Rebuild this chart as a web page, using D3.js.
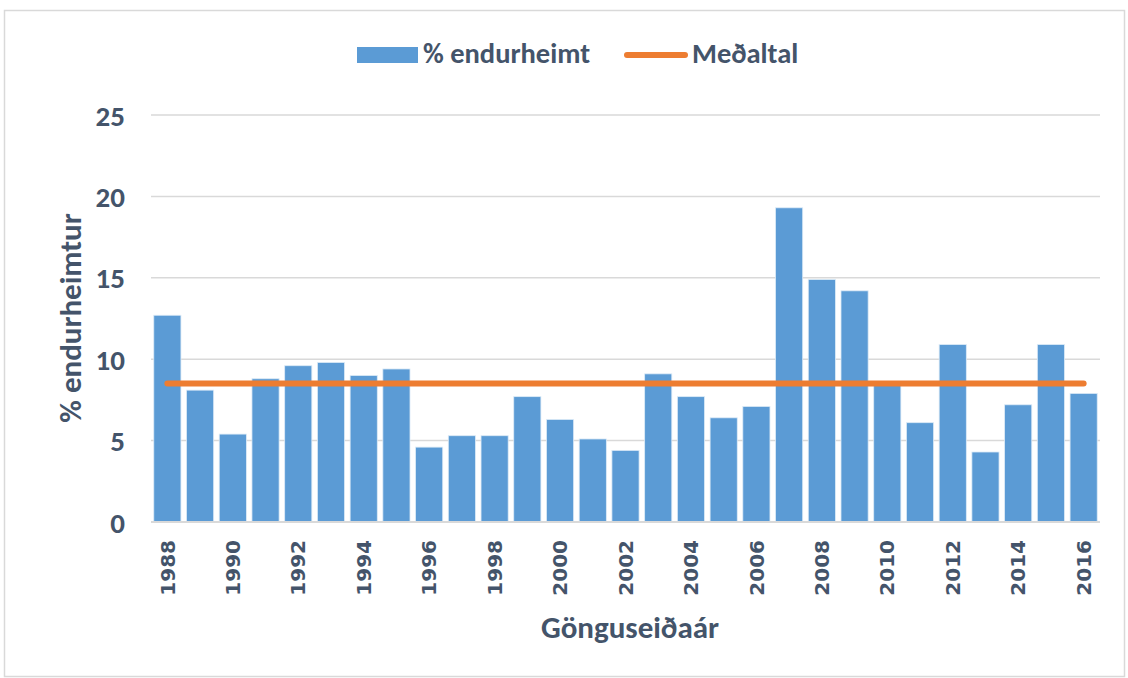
<!DOCTYPE html>
<html><head><meta charset="utf-8">
<script src="https://cdn.jsdelivr.net/npm/d3@7"></script>
<style>body{margin:0;background:#fff}svg{display:block}</style>
</head><body>
<script>
const years = d3.range(1988, 2017);
const values = [12.7,8.1,5.4,8.8,9.6,9.8,9.0,9.4,4.6,5.3,5.3,7.7,6.3,5.1,4.4,9.1,7.7,6.4,7.1,19.3,14.9,14.2,8.4,6.1,10.9,4.3,7.2,10.9,7.9];
const meanValue = 8.5;
const yTicks = [0,5,10,15,20,25];
const seriesNames = ["% endurheimt","Meðaltal"];
const xTitle = "Gönguseiðaár", yTitle = "% endurheimtur";

const W=1128,H=678;
const textColor="#44546A", barColor="#5B9BD5", lineColor="#ED7D31", gridColor="#D9D9D9";
const font="Carlito, 'Open Sans', sans-serif";
const svg=d3.select("body").append("svg").attr("width",W).attr("height",H);
svg.append("rect").attr("x",4.5).attr("y",10.5).attr("width",1120).attr("height",666).attr("fill","#fff").attr("stroke",gridColor).attr("stroke-width",1.5);

const x=d3.scaleBand().domain(years).range([151,1100]).paddingInner(0.17).paddingOuter(0.085);
const y=d3.scaleLinear().domain([0,25]).range([522,115]);

// gridlines
svg.append("g").selectAll("line").data(yTicks.filter(d=>d>0)).join("line")
  .attr("x1",151).attr("x2",1100).attr("y1",d=>y(d)).attr("y2",d=>y(d))
  .attr("stroke",gridColor).attr("stroke-width",1.5);

// y axis labels
const yAxis=d3.axisLeft(y).tickValues(yTicks).tickSize(0).tickPadding(0);
const ga=svg.append("g").attr("transform","translate(125,0)").call(yAxis);
ga.select(".domain").remove();
ga.selectAll("text").attr("font-family",font).attr("font-weight","bold").attr("font-size",29).attr("fill",textColor).attr("dy","0.35em");

// bars
svg.append("g").selectAll("rect").data(years.map((yr,i)=>({yr,v:values[i]}))).join("rect")
  .attr("x",d=>x(d.yr)).attr("width",x.bandwidth())
  .attr("y",d=>y(d.v)).attr("height",d=>y(0)-y(d.v))
  .attr("fill",barColor).attr("stroke","#DDEBF7").attr("stroke-width",0.8);

// x axis line
svg.append("line").attr("x1",151).attr("x2",1100).attr("y1",y(0)).attr("y2",y(0)).attr("stroke",gridColor).attr("stroke-width",2);

// mean line
const line=d3.line().x(d=>x(d)+x.bandwidth()/2).y(()=>y(meanValue));
svg.append("path").datum([years[0],years[years.length-1]]).attr("d",line)
  .attr("stroke",lineColor).attr("stroke-width",6).attr("stroke-linecap","round").attr("fill","none");

// x tick labels
const xAxis=d3.axisBottom(x).tickValues(years.filter(d=>(d-1988)%2===0)).tickSize(0).tickPadding(0);
const gx=svg.append("g").attr("transform",`translate(0,${y(0)})`).call(xAxis);
gx.select(".domain").remove();
gx.selectAll("text").attr("font-family","'DejaVu Sans', sans-serif").attr("font-weight","bold").attr("font-size",20).attr("fill",textColor)
  .attr("transform","rotate(-90)").attr("text-anchor","end").attr("x",-18).attr("y",0).attr("dy","0.36em");

// titles
svg.append("text").attr("x",630).attr("y",638).attr("text-anchor","middle").attr("font-family",font).attr("font-weight","bold").attr("font-size",31).attr("fill",textColor).text(xTitle);
svg.append("text").attr("transform","translate(81,318) rotate(-90)").attr("text-anchor","middle").attr("font-family",font).attr("font-weight","bold").attr("font-size",31).attr("fill",textColor).text(yTitle);

// legend
const lg=svg.append("g");
lg.append("rect").attr("x",357).attr("y",47).attr("width",61).attr("height",16).attr("fill",barColor);
lg.append("text").attr("x",423).attr("y",63).attr("font-family",font).attr("font-weight","bold").attr("font-size",28.5).attr("fill",textColor).text(seriesNames[0]);
lg.append("line").attr("x1",627).attr("x2",685).attr("y1",55).attr("y2",55).attr("stroke",lineColor).attr("stroke-width",6).attr("stroke-linecap","round");
lg.append("text").attr("x",692).attr("y",63).attr("font-family",font).attr("font-weight","bold").attr("font-size",28.5).attr("fill",textColor).text(seriesNames[1]);
</script>
</body></html>
